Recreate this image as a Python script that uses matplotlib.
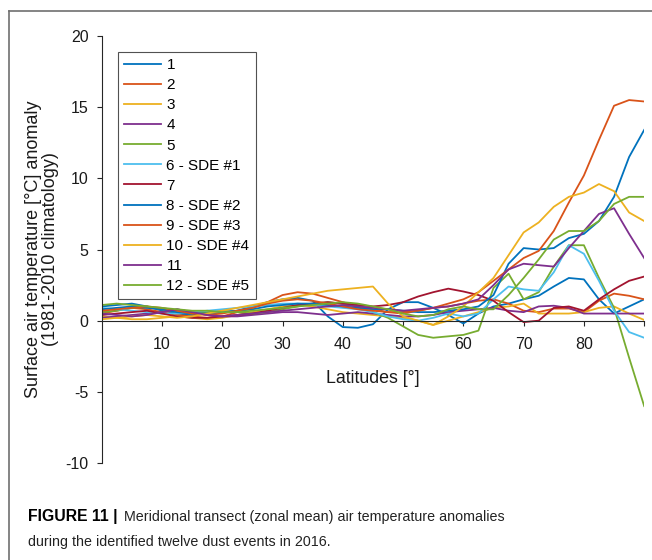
import numpy as np
import matplotlib

matplotlib.use("Agg")
import matplotlib.pyplot as plt

plt.rcParams["font.family"] = ["Liberation Sans", "DejaVu Sans"]
plt.rcParams["axes.unicode_minus"] = False

# -----------------------------------------------------------------------------

lats = np.arange(0, 90.1, 2.5)

labels = ["1", "2", "3", "4", "5", "6 - SDE #1", "7", "8 - SDE #2",
          "9 - SDE #3", "10 - SDE #4", "11", "12 - SDE #5"]

colors = ["#0072BD", "#D95319", "#EDB120", "#7E2F8E", "#77AC30", "#4DBEEE",
          "#A2142F", "#0072BD", "#D95319", "#EDB120", "#7E2F8E", "#77AC30"]

ev1 = [1.0, 1.1, 1.2, 1.0, 0.7, 0.5, 0.4, 0.5, 0.6, 0.7, 1.0, 1.3, 1.5, 1.6, 1.4, 0.3, -0.45, -0.5, -0.25,
       0.8, 1.3, 1.3, 0.9, 0.4, -0.2, 0.5, 1.0, 1.2, 1.5, 1.75, 2.4, 3.0, 2.9, 1.5, 0.5, 1.0, 1.5]
ev2 = [0.5, 0.7, 0.9, 0.8, 0.6, 0.4, 0.3, 0.2, 0.3, 0.6, 0.9, 1.3, 1.8, 2.0, 1.9, 1.6, 1.3, 1.0, 0.8,
       0.6, 0.5, 0.7, 0.9, 1.0, 1.2, 1.4, 1.5, 1.2, 0.7, 0.6, 0.85, 0.85, 0.6, 1.4, 1.9, 1.75, 1.5]
ev3 = [0.3, 0.2, 0.1, 0.1, 0.2, 0.3, 0.2, 0.1, 0.2, 0.4, 0.6, 0.8, 1.0, 1.1, 1.0, 0.8, 0.6, 0.5, 0.4,
       0.3, 0.2, 0.0, -0.3, 0.0, 0.3, 0.6, 0.9, 1.0, 1.2, 0.5, 0.5, 0.5, 0.6, 0.9, 1.0, 0.5, 0.05]
ev4 = [0.2, 0.3, 0.4, 0.5, 0.6, 0.8, 0.6, 0.4, 0.3, 0.3, 0.4, 0.5, 0.6, 0.6, 0.5, 0.4, 0.5, 0.6, 0.5,
       0.4, 0.3, 0.3, 0.4, 0.6, 0.7, 0.8, 0.9, 0.7, 0.6, 1.0, 1.05, 0.9, 0.5, 0.5, 0.5, 0.5, 0.5]
ev5 = [0.6, 0.7, 0.9, 1.0, 0.8, 0.6, 0.5, 0.6, 0.7, 0.6, 0.5, 0.6, 0.8, 1.0, 1.2, 1.3, 1.2, 1.0, 0.6,
       0.2, -0.4, -1.0, -1.2, -1.1, -1.0, -0.7, 2.3, 3.3, 1.5, 2.0, 3.8, 5.3, 5.3, 3.0, 0.9, -2.6, -6.0]
ev6 = [0.9, 0.8, 0.7, 0.6, 0.5, 0.5, 0.6, 0.7, 0.8, 0.9, 1.0, 1.1, 1.2, 1.2, 1.1, 1.0, 0.9, 0.8, 0.6,
       0.3, 0.1, 0.0, 0.2, 0.5, 0.3, 0.5, 1.5, 2.4, 2.2, 2.1, 3.4, 5.3, 4.7, 2.8, 0.7, -0.8, -1.2]
ev7 = [0.4, 0.5, 0.6, 0.7, 0.5, 0.3, 0.2, 0.2, 0.3, 0.4, 0.5, 0.7, 0.9, 1.1, 1.2, 1.3, 1.2, 1.1, 1.0,
       1.1, 1.3, 1.7, 2.0, 2.25, 2.05, 1.8, 1.4, 0.6, -0.1, 0.0, 0.9, 1.0, 0.7, 1.5, 2.2, 2.8, 3.1]
ev8 = [0.8, 0.9, 1.0, 0.9, 0.8, 0.6, 0.5, 0.5, 0.6, 0.7, 0.8, 1.0, 1.1, 1.2, 1.2, 1.1, 1.0, 0.9, 0.8,
       0.8, 0.7, 0.6, 0.6, 0.7, 0.8, 1.0, 1.8, 4.0, 5.1, 5.0, 5.1, 5.8, 6.1, 7.0, 8.7, 11.5, 13.4]
ev9 = [0.7, 0.8, 0.9, 1.0, 0.9, 0.7, 0.5, 0.4, 0.5, 0.7, 0.9, 1.2, 1.4, 1.5, 1.4, 1.2, 1.0, 0.8, 0.7,
       0.6, 0.6, 0.7, 0.9, 1.2, 1.5, 2.0, 2.8, 3.6, 4.4, 4.9, 6.3, 8.3, 10.2, 12.7, 15.1, 15.5, 15.4]
ev10 = [0.1, 0.2, 0.3, 0.4, 0.3, 0.2, 0.3, 0.5, 0.7, 0.9, 1.1, 1.3, 1.5, 1.7, 1.9, 2.1, 2.2, 2.3, 2.4,
        1.2, 0.3, 0.0, -0.3, 0.3, 1.0, 2.0, 3.0, 4.6, 6.2, 6.9, 8.0, 8.7, 9.0, 9.6, 9.1, 7.6, 7.0]
ev11 = [0.5, 0.4, 0.3, 0.4, 0.6, 0.8, 0.6, 0.4, 0.3, 0.4, 0.5, 0.6, 0.7, 0.8, 0.9, 1.0, 1.1, 1.0, 0.9,
        0.8, 0.7, 0.8, 0.9, 1.0, 1.2, 1.5, 2.5, 3.6, 4.0, 3.9, 3.8, 5.1, 6.3, 7.5, 7.9, 6.1, 4.4]
ev12 = [1.1, 1.2, 1.1, 1.0, 0.9, 0.8, 0.7, 0.7, 0.6, 0.6, 0.7, 0.8, 0.9, 1.0, 1.1, 1.2, 1.3, 1.2, 1.0,
        0.8, 0.5, 0.3, 0.4, 0.8, 1.0, 0.8, 0.8, 1.8, 3.0, 4.3, 5.7, 6.3, 6.3, 7.0, 8.2, 8.7, 8.7]

events = [ev1, ev2, ev3, ev4, ev5, ev6, ev7, ev8, ev9, ev10, ev11, ev12]

# -----------------------------------------------------------------------------

fig = plt.figure(figsize=(6.52, 5.6), dpi=100)
ax = fig.add_axes([0.156, 0.1732, 0.832, 0.7625])

for vals, col, lab in zip(events, colors, labels):
    ax.plot(lats, vals, color=col, linewidth=1.3, label=lab)

ax.set_xlim(0, 90)
ax.set_ylim(-10, 20)
ax.set_xticks(range(10, 91, 10))
ax.set_xticklabels([str(v) for v in range(10, 81, 10)] + [""])
ax.set_yticks(range(-10, 21, 5))

for side in ("top", "right"):
    ax.spines[side].set_visible(False)
ax.spines["bottom"].set_position(("data", 0))
for side in ("left", "bottom"):
    ax.spines[side].set_color("#262626")
    ax.spines[side].set_linewidth(0.8)
ax.tick_params(colors="#262626", labelcolor="#1a1a1a", labelsize=11.5,
               length=3.5, width=0.8)
ax.tick_params(axis="y", pad=6)
ax.tick_params(axis="x", pad=8)

ax.set_xlabel("Latitudes [°]", fontsize=12.8, color="#1a1a1a")
ax.set_ylabel("Surface air temperature [°C] anomaly\n(1981-2010 climatology)",
              fontsize=13, color="#1a1a1a", linespacing=1.05)
ax.xaxis.set_label_coords(0.5, 0.218)
ax.yaxis.set_label_coords(-0.078, 0.5)

leg = ax.legend(loc="upper left", bbox_to_anchor=(0.03, 0.9625), fontsize=11,
                frameon=True, fancybox=False, handlelength=2.42,
                labelspacing=0.4, handletextpad=0.35, borderpad=0.4,
                borderaxespad=0)
leg.get_frame().set_edgecolor("#262626")
leg.get_frame().set_linewidth(0.8)

# figure frame
fig.add_artist(plt.Line2D([9 / 652, 9 / 652], [0, 1 - 11 / 560],
                          color="#707070", linewidth=1.2))
fig.add_artist(plt.Line2D([9 / 652, 1], [1 - 11 / 560, 1 - 11 / 560],
                          color="#707070", linewidth=1.2))

# caption
fig.text(28 / 652, 1 - 517 / 560, "FIGURE 11 |", fontsize=11.3,
         fontweight="bold", va="center", ha="left")
fig.text(124 / 652, 1 - 517 / 560,
         "Meridional transect (zonal mean) air temperature anomalies",
         fontsize=10.3, va="center", ha="left", color="#222222")
fig.text(28 / 652, 1 - 542 / 560, "during the identified twelve dust events in 2016.",
         fontsize=10.3, va="center", ha="left", color="#222222")

fig.savefig("out.png", dpi=100)
